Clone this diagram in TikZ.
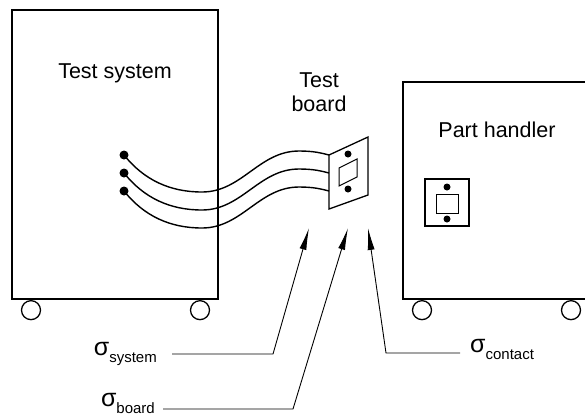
\documentclass[tikz,border=0pt]{standalone}
\usepackage{fontspec}
\setmainfont{Liberation Sans}
\usetikzlibrary{arrows.meta,positioning,calc}

\newcommand{\sig}[1]{σ\raisebox{-7pt}{\fontsize{15}{15}\selectfont #1}}

\begin{document}
\begin{tikzpicture}[
            x=1pt,
            y=-1pt,
            cabinet/.style={
                    draw=black,
                    line width=2pt,
                    inner sep=0pt
                },
            wheel/.style={
                    circle,
                    draw=black,
                    line width=1.3pt,
                    fill=white,
                    inner sep=0pt,
                    minimum size=19pt
                },
            terminal/.style={
                    circle,
                    fill=black,
                    inner sep=0pt,
                    minimum size=#1
                },
            terminal/.default=9pt,
            cable/.style={
                    line width=1.4pt
                },
            plate/.style={
                    draw=black,
                    line width=1.3pt,
                    fill=white
                },
            title/.style={
                    font=\fontsize{21.5}{24}\selectfont,
                    align=center,
                    inner sep=0pt
                },
            siglabel/.style={
                    font=\fontsize{25}{26}\selectfont,
                    inner sep=0pt
                },
            leader/.style={
                    line width=0.9pt,
                    -{Latex[length=22pt,width=7pt]}
                }
        ]

        \useasboundingbox (0,0) rectangle (585,416);
        \clip (0,0) rectangle (585,416);

        % the two cabinets
        \node[cabinet, minimum width=206pt, minimum height=289pt] (tester) at (115,154.5) {};
        \node[cabinet, minimum width=197pt, minimum height=217pt] (handler) at (501.5,190.5) {};

        \node[title, anchor=base] (testertitle) at (115,78) {Test system};
        \node[title, anchor=base] (handlertitle) at (497,137) {Part handler};
        \node[title] (boardtitle) at (319,92) {Test\\board};

        % wheels
        \node[wheel, anchor=north] (tw1) at ($(tester.south west)+(20,0)$) {};
        \node[wheel, anchor=north] (tw2) at ($(tester.south east)+(-19,0)$) {};
        \node[wheel, anchor=north] (hw1) at ($(handler.south west)+(20,0)$) {};
        \node[wheel, anchor=north] (hw2) at ($(handler.south west)+(169,0)$) {};

        % test board
        \coordinate (bnw) at (329,155);
        \coordinate (bne) at (368,137);
        \coordinate (bse) at (368,195);
        \coordinate (bsw) at (329,209);
        \draw[plate] (bnw) -- (bne) -- (bse) -- (bsw) -- cycle;
        \draw[line width=1pt] (339,168) -- (357,159) -- (357,177) -- (339,186) -- cycle;
        \node[terminal=7pt] (bp1) at (348,154) {};
        \node[terminal=7pt] (bp2) at (348,189) {};

        % cables from the tester to the board
        \foreach \i/\dy in {1/0, 2/18, 3/36} {
                \node[terminal] (t\i) at (124,155+\dy) {};
                \coordinate (b\i) at (329,155+\dy);
                \draw[cable] (t\i.center)
                .. controls +(20,25) and +(-32,0) .. ($(t\i)+(78,37)$)
                .. controls +(40,0) and +(-40,0) .. ($(b\i)+(-30,-4)$)
                .. controls +(15,0) and +(-8,-2) .. (b\i);
            }

        % socket on the handler
        \draw[line width=1.3pt] (425,179) rectangle (469,226);
        \draw[line width=1pt] (436,194) rectangle (458,213);
        \node[terminal=7pt] (hp1) at (447,187) {};
        \node[terminal=7pt] (hp2) at (447,219) {};

        % sigma labels
        \coordinate (ksys) at (273,354);
        \coordinate (tsys) at (309,228);
        \coordinate (kbrd) at (293,409);
        \coordinate (tbrd) at (348,228);
        \coordinate (kcon) at (386,353);
        \coordinate (tcon) at (368,228);

        \node[siglabel, anchor=base east] (lsys) at (157,355) {\sig{system}};
        \node[siglabel, anchor=base east] (lbrd) at (155,406) {\sig{board}};
        \node[siglabel, anchor=base west] (lcon) at (470,352) {\sig{contact}};

        \draw[leader] (ksys -| lsys.east) ++(15,0) -- (ksys) -- (tsys);
        \draw[leader] (kbrd -| lbrd.east) ++(8,0) -- (kbrd) -- (tbrd);
        \draw[leader] (kcon -| lcon.west) ++(-10,0) -- (kcon) -- (tcon);

    \end{tikzpicture}
\end{document}
